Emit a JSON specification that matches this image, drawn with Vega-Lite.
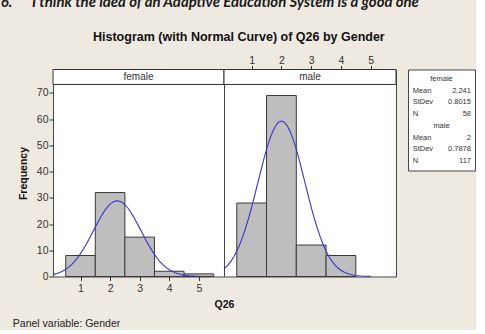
{
  "$schema": "https://vega.github.io/schema/vega-lite/v6.json",
  "background": "#EEEAE2",
  "padding": {"left": 0, "top": -5.5, "right": 0, "bottom": 0},
  "title": {
    "text": "6.\u00a0\u00a0\u00a0\u00a0\u00a0\u00a0I think the idea of an Adaptive Education System is a good one",
    "anchor": "start", "frame": "bounds", "dx": -12, "offset": 20,
    "font": "Lato", "fontStyle": "italic", "fontWeight": "bold", "fontSize": 14.9, "color": "#1A1A1A"
  },
  "config": {
    "font": "Liberation Sans",
    "view": {"fill": "white", "stroke": "#454545"},
    "axis": {"domain": false, "grid": false, "labelColor": "#333333", "tickColor": "#333333", "labelFontSize": 10.5, "labelFont": "Liberation Sans", "titleFont": "Liberation Sans", "titleColor": "#111111", "titleFontWeight": "bold", "titleFontSize": 10.5, "tickSize": 4}
  },
  "datasets": {
    "bins": [
      {"g": "female", "lo": 0.5, "hi": 1.5, "n": 8},
      {"g": "female", "lo": 1.5, "hi": 2.5, "n": 32},
      {"g": "female", "lo": 2.5, "hi": 3.5, "n": 15},
      {"g": "female", "lo": 3.5, "hi": 4.5, "n": 2},
      {"g": "female", "lo": 4.5, "hi": 5.5, "n": 1},
      {"g": "male", "lo": 0.5, "hi": 1.5, "n": 28},
      {"g": "male", "lo": 1.5, "hi": 2.5, "n": 69},
      {"g": "male", "lo": 2.5, "hi": 3.5, "n": 12},
      {"g": "male", "lo": 3.5, "hi": 4.5, "n": 8}
    ],
    "curve": [
      {"g": "female", "x": 0.07, "y": 0.74}, {"g": "female", "x": 0.1, "y": 0.82}, {"g": "female", "x": 0.2, "y": 1.13}, {"g": "female", "x": 0.3, "y": 1.54}, {"g": "female", "x": 0.4, "y": 2.06},
      {"g": "female", "x": 0.5, "y": 2.73}, {"g": "female", "x": 0.6, "y": 3.55}, {"g": "female", "x": 0.7, "y": 4.55}, {"g": "female", "x": 0.8, "y": 5.74}, {"g": "female", "x": 0.9, "y": 7.12},
      {"g": "female", "x": 1.0, "y": 8.71}, {"g": "female", "x": 1.1, "y": 10.48}, {"g": "female", "x": 1.2, "y": 12.42}, {"g": "female", "x": 1.3, "y": 14.49}, {"g": "female", "x": 1.4, "y": 16.65},
      {"g": "female", "x": 1.5, "y": 18.83}, {"g": "female", "x": 1.6, "y": 20.97}, {"g": "female", "x": 1.7, "y": 22.99}, {"g": "female", "x": 1.8, "y": 24.81}, {"g": "female", "x": 1.9, "y": 26.37},
      {"g": "female", "x": 2.0, "y": 27.59}, {"g": "female", "x": 2.1, "y": 28.43}, {"g": "female", "x": 2.2, "y": 28.83}, {"g": "female", "x": 2.3, "y": 28.79}, {"g": "female", "x": 2.4, "y": 28.31},
      {"g": "female", "x": 2.5, "y": 27.40}, {"g": "female", "x": 2.6, "y": 26.12}, {"g": "female", "x": 2.7, "y": 24.50}, {"g": "female", "x": 2.8, "y": 22.64}, {"g": "female", "x": 2.9, "y": 20.59},
      {"g": "female", "x": 3.0, "y": 18.44}, {"g": "female", "x": 3.1, "y": 16.26}, {"g": "female", "x": 3.2, "y": 14.11}, {"g": "female", "x": 3.3, "y": 12.06}, {"g": "female", "x": 3.4, "y": 10.15},
      {"g": "female", "x": 3.5, "y": 8.41}, {"g": "female", "x": 3.6, "y": 6.86}, {"g": "female", "x": 3.7, "y": 5.51}, {"g": "female", "x": 3.8, "y": 4.35}, {"g": "female", "x": 3.9, "y": 3.39},
      {"g": "female", "x": 4.0, "y": 2.60}, {"g": "female", "x": 4.1, "y": 1.96}, {"g": "female", "x": 4.2, "y": 1.46}, {"g": "female", "x": 4.3, "y": 1.07}, {"g": "female", "x": 4.4, "y": 0.77},
      {"g": "female", "x": 4.5, "y": 0.54}, {"g": "female", "x": 4.6, "y": 0.38}, {"g": "female", "x": 4.7, "y": 0.26}, {"g": "female", "x": 4.8, "y": 0.18}, {"g": "female", "x": 4.9, "y": 0.12},
      {"g": "female", "x": 5.0, "y": 0.08},
      {"g": "male", "x": 0.07, "y": 2.95}, {"g": "male", "x": 0.1, "y": 3.23}, {"g": "male", "x": 0.2, "y": 4.36}, {"g": "male", "x": 0.3, "y": 5.78}, {"g": "male", "x": 0.4, "y": 7.53},
      {"g": "male", "x": 0.5, "y": 9.67}, {"g": "male", "x": 0.6, "y": 12.22}, {"g": "male", "x": 0.7, "y": 15.18}, {"g": "male", "x": 0.8, "y": 18.57}, {"g": "male", "x": 0.9, "y": 22.35},
      {"g": "male", "x": 1.0, "y": 26.47}, {"g": "male", "x": 1.1, "y": 30.85}, {"g": "male", "x": 1.2, "y": 35.38}, {"g": "male", "x": 1.3, "y": 39.92}, {"g": "male", "x": 1.4, "y": 44.34},
      {"g": "male", "x": 1.5, "y": 48.44}, {"g": "male", "x": 1.6, "y": 52.09}, {"g": "male", "x": 1.7, "y": 55.11}, {"g": "male", "x": 1.8, "y": 57.37}, {"g": "male", "x": 1.9, "y": 58.77},
      {"g": "male", "x": 2.0, "y": 59.25}, {"g": "male", "x": 2.1, "y": 58.77}, {"g": "male", "x": 2.2, "y": 57.37}, {"g": "male", "x": 2.3, "y": 55.11}, {"g": "male", "x": 2.4, "y": 52.09},
      {"g": "male", "x": 2.5, "y": 48.44}, {"g": "male", "x": 2.6, "y": 44.34}, {"g": "male", "x": 2.7, "y": 39.92}, {"g": "male", "x": 2.8, "y": 35.38}, {"g": "male", "x": 2.9, "y": 30.85},
      {"g": "male", "x": 3.0, "y": 26.47}, {"g": "male", "x": 3.1, "y": 22.35}, {"g": "male", "x": 3.2, "y": 18.57}, {"g": "male", "x": 3.3, "y": 15.18}, {"g": "male", "x": 3.4, "y": 12.22},
      {"g": "male", "x": 3.5, "y": 9.67}, {"g": "male", "x": 3.6, "y": 7.53}, {"g": "male", "x": 3.7, "y": 5.78}, {"g": "male", "x": 3.8, "y": 4.36}, {"g": "male", "x": 3.9, "y": 3.23},
      {"g": "male", "x": 4.0, "y": 2.36}, {"g": "male", "x": 4.1, "y": 1.70}, {"g": "male", "x": 4.2, "y": 1.20}, {"g": "male", "x": 4.3, "y": 0.84}, {"g": "male", "x": 4.4, "y": 0.57},
      {"g": "male", "x": 4.5, "y": 0.39}, {"g": "male", "x": 4.6, "y": 0.26}, {"g": "male", "x": 4.7, "y": 0.17}, {"g": "male", "x": 4.8, "y": 0.11}, {"g": "male", "x": 4.9, "y": 0.07},
      {"g": "male", "x": 5.0, "y": 0.04}
    ],
    "stats": [
      {"row": 1, "kind": "head", "label": "female"},
      {"row": 2, "kind": "stat", "label": "Mean", "val": "2.241"},
      {"row": 3, "kind": "stat", "label": "StDev", "val": "0.8015"},
      {"row": 4, "kind": "stat", "label": "N", "val": "58"},
      {"row": 5, "kind": "head", "label": "male"},
      {"row": 6, "kind": "stat", "label": "Mean", "val": "2"},
      {"row": 7, "kind": "stat", "label": "StDev", "val": "0.7878"},
      {"row": 8, "kind": "stat", "label": "N", "val": "117"}
    ]
  },
  "spacing": 10,
  "hconcat": [
    {
      "spacing": 0,
      "bounds": "flush",
      "title": {"text": "Panel variable: Gender", "orient": "bottom", "anchor": "start", "frame": "bounds", "dx": -5, "offset": 9, "font": "Liberation Sans", "fontSize": 10.5, "fontWeight": "normal", "color": "#222222"},
      "hconcat": [
        {
          "width": 171, "height": 207,
          "title": {"text": "Histogram (with Normal Curve) of Q26 by Gender", "anchor": "start", "frame": "group", "dx": 40, "offset": 26, "font": "Liberation Sans", "fontSize": 12.5, "fontWeight": "bold", "color": "#111111"},
          "layer": [
            {
              "data": {"name": "bins"},
              "transform": [{"filter": "datum.g == 'female'"}],
              "mark": {"type": "rect", "fill": "#BEBEBE", "stroke": "#3A3A3A", "strokeWidth": 1},
              "encoding": {
                "x": {"field": "lo", "type": "quantitative", "scale": {"domain": [0.07, 5.85], "nice": false, "zero": false},
                      "axis": {"orient": "bottom", "values": [1, 2, 3, 4, 5], "title": "Q26", "titleX": 171, "labelPadding": 3, "titlePadding": 5}},
                "x2": {"field": "hi"},
                "y": {"field": "n", "type": "quantitative", "scale": {"domain": [0, 78.9], "nice": false},
                      "axis": {"values": [0, 10, 20, 30, 40, 50, 60, 70], "title": "Frequency", "labelPadding": 1, "titlePadding": 8}},
                "y2": {"datum": 0}
              }
            },
            {
              "data": {"name": "curve"},
              "transform": [{"filter": "datum.g == 'female'"}],
              "mark": {"type": "line", "color": "#3535CC", "strokeWidth": 1.1},
              "encoding": {
                "x": {"field": "x", "type": "quantitative", "axis": {"orient": "bottom", "values": [1, 2, 3, 4, 5], "title": "Q26", "titleX": 171, "labelPadding": 3, "titlePadding": 5}},
                "y": {"field": "y", "type": "quantitative", "axis": {"values": [0, 10, 20, 30, 40, 50, 60, 70], "title": "Frequency", "labelPadding": 1, "titlePadding": 8}}
              }
            },
            {
              "data": {"values": [{"panel": "female"}]},
              "mark": {"type": "rect", "fill": "white", "stroke": "#333333", "strokeWidth": 1},
              "encoding": {
                "x": {"datum": 0.07, "type": "quantitative", "axis": {"orient": "bottom", "values": [1, 2, 3, 4, 5], "title": "Q26", "titleX": 171, "labelPadding": 3, "titlePadding": 5}},
                "x2": {"datum": 5.85},
                "y": {"datum": 73.2, "type": "quantitative", "axis": {"values": [0, 10, 20, 30, 40, 50, 60, 70], "title": "Frequency", "labelPadding": 1, "titlePadding": 8}},
                "y2": {"datum": 78.9}
              }
            },
            {
              "data": {"values": [{"panel": "female"}]},
              "mark": {"type": "text", "fontSize": 10, "color": "#333333", "baseline": "middle"},
              "encoding": {
                "x": {"datum": 2.96, "type": "quantitative", "axis": {"orient": "bottom", "values": [1, 2, 3, 4, 5], "title": "Q26", "titleX": 171, "labelPadding": 3, "titlePadding": 5}},
                "y": {"datum": 76.05, "type": "quantitative", "axis": {"values": [0, 10, 20, 30, 40, 50, 60, 70], "title": "Frequency", "labelPadding": 1, "titlePadding": 8}},
                "text": {"field": "panel"}
              }
            }
          ]
        },
        {
          "width": 172, "height": 207,
          "layer": [
            {
              "data": {"name": "bins"},
              "transform": [{"filter": "datum.g == 'male'"}],
              "mark": {"type": "rect", "fill": "#BEBEBE", "stroke": "#3A3A3A", "strokeWidth": 1},
              "encoding": {
                "x": {"field": "lo", "type": "quantitative", "scale": {"domain": [0.07, 5.85], "nice": false, "zero": false},
                      "axis": {"orient": "top", "values": [1, 2, 3, 4, 5], "title": null, "labelPadding": 2, "tickSize": 4, "labelBaseline": "alphabetic"}},
                "x2": {"field": "hi"},
                "y": {"field": "n", "type": "quantitative", "scale": {"domain": [0, 78.9], "nice": false}, "axis": null},
                "y2": {"datum": 0}
              }
            },
            {
              "data": {"name": "curve"},
              "transform": [{"filter": "datum.g == 'male'"}],
              "mark": {"type": "line", "color": "#3535CC", "strokeWidth": 1.1},
              "encoding": {
                "x": {"field": "x", "type": "quantitative", "axis": {"orient": "top", "values": [1, 2, 3, 4, 5], "title": null, "labelPadding": 2, "tickSize": 4, "labelBaseline": "alphabetic"}},
                "y": {"field": "y", "type": "quantitative", "axis": null}
              }
            },
            {
              "data": {"values": [{"panel": "male"}]},
              "mark": {"type": "rect", "fill": "white", "stroke": "#333333", "strokeWidth": 1},
              "encoding": {
                "x": {"datum": 0.07, "type": "quantitative", "axis": {"orient": "top", "values": [1, 2, 3, 4, 5], "title": null, "labelPadding": 2, "tickSize": 4, "labelBaseline": "alphabetic"}},
                "x2": {"datum": 5.85},
                "y": {"datum": 73.2, "type": "quantitative", "axis": null},
                "y2": {"datum": 78.9}
              }
            },
            {
              "data": {"values": [{"panel": "male"}]},
              "mark": {"type": "text", "fontSize": 10, "color": "#333333", "baseline": "middle"},
              "encoding": {
                "x": {"datum": 2.96, "type": "quantitative", "axis": {"orient": "top", "values": [1, 2, 3, 4, 5], "title": null, "labelPadding": 2, "tickSize": 4, "labelBaseline": "alphabetic"}},
                "y": {"datum": 76.05, "type": "quantitative", "axis": null},
                "text": {"field": "panel"}
              }
            }
          ]
        }
      ]
    },
    {
      "width": 67, "height": 101,
      "data": {"name": "stats"},
      "layer": [
        {
          "transform": [{"filter": "datum.kind == 'head'"}],
          "mark": {"type": "text", "align": "center", "baseline": "middle", "fontSize": 7.5, "color": "#333333"},
          "encoding": {
            "x": {"datum": 0.5, "type": "quantitative", "scale": {"domain": [0, 1]}, "axis": null},
            "y": {"field": "row", "type": "ordinal", "scale": {"type": "point", "padding": 0.8, "domain": [1, 2, 3, 4, 5, 6, 7, 8]}, "axis": null},
            "text": {"field": "label"}
          }
        },
        {
          "transform": [{"filter": "datum.kind == 'stat'"}],
          "mark": {"type": "text", "align": "left", "baseline": "middle", "fontSize": 7.5, "color": "#333333"},
          "encoding": {
            "x": {"datum": 0.07, "type": "quantitative", "axis": null},
            "y": {"field": "row", "type": "ordinal", "axis": null},
            "text": {"field": "label"}
          }
        },
        {
          "transform": [{"filter": "datum.kind == 'stat'"}],
          "mark": {"type": "text", "align": "right", "baseline": "middle", "fontSize": 7.5, "color": "#333333"},
          "encoding": {
            "x": {"datum": 0.94, "type": "quantitative", "axis": null},
            "y": {"field": "row", "type": "ordinal", "axis": null},
            "text": {"field": "val"}
          }
        }
      ]
    }
  ]
}
